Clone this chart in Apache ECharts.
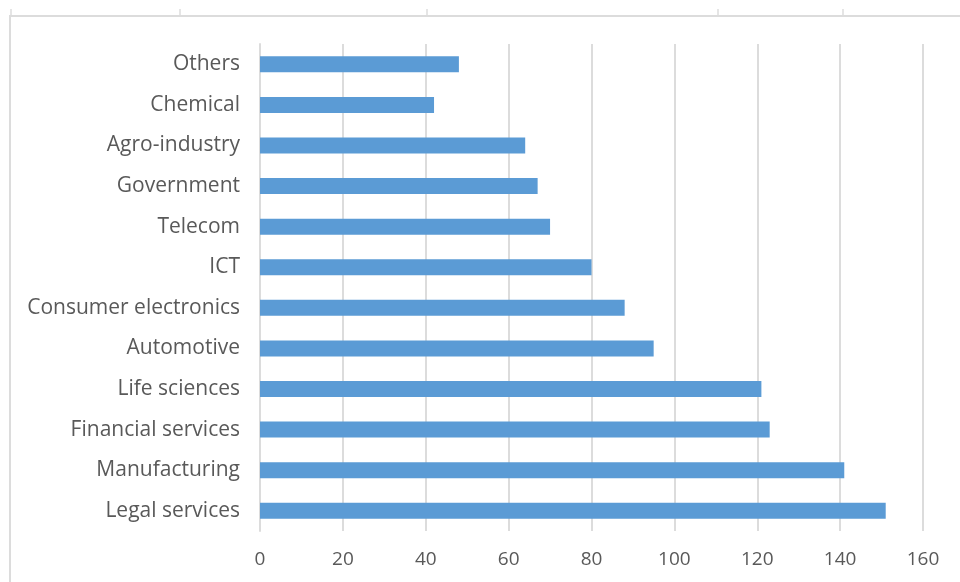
<!DOCTYPE html>
<html>
<head>
<meta charset="utf-8">
<script src="https://cdn.jsdelivr.net/npm/echarts@6/dist/echarts.min.js"></script>
<style>
  html, body { margin: 0; padding: 0; background: #ffffff; }
  #chart { width: 960px; height: 582px; }
</style>
</head>
<body>
<div id="chart"></div>
<script>
// Sectors, listed top to bottom
const categories = [
  'Others', 'Chemical', 'Agro-industry', 'Government', 'Telecom', 'ICT',
  'Consumer electronics', 'Automotive', 'Life sciences', 'Financial services',
  'Manufacturing', 'Legal services'
];
const values = [48, 42, 64, 67, 70, 80, 88, 95, 121, 123, 141, 151];
const xTicks = [0, 20, 40, 60, 80, 100, 120, 140, 160];

const textColor = '#595959';
const lineColor = '#dcdcdc';
const fontFamily = '"Open Sans", "Noto Sans", sans-serif';

const chart = echarts.init(document.getElementById('chart'), null, { renderer: 'canvas' });

// Outer frame with small ticks along its top edge
const frameTicks = [11, 180, 427, 718, 843].map(x => ({
  type: 'line',
  silent: true,
  shape: { x1: x, y1: 9, x2: x, y2: 16 },
  style: { stroke: lineColor, lineWidth: 1.5 }
}));

chart.setOption({
  backgroundColor: '#ffffff',
  animation: false,
  grid: { left: 260, right: 37, top: 44, bottom: 51, containLabel: false },
  xAxis: {
    type: 'value',
    min: xTicks[0],
    max: xTicks[xTicks.length - 1],
    interval: 20,
    axisLine: { show: false },
    axisTick: { show: false },
    splitLine: { show: true, lineStyle: { color: lineColor, width: 2 } },
    axisLabel: {
      color: textColor,
      fontFamily: fontFamily,
      fontSize: 19,
      margin: 19
    }
  },
  yAxis: {
    type: 'category',
    data: categories,
    inverse: true,
    axisLine: { show: true, lineStyle: { color: lineColor, width: 2 } },
    axisTick: { show: false },
    axisLabel: {
      color: textColor,
      fontFamily: fontFamily,
      fontSize: 21,
      margin: 20
    }
  },
  series: [{
    type: 'bar',
    data: values,
    barWidth: 16,
    itemStyle: { color: '#5b9bd5' }
  }],
  graphic: [
    {
      type: 'rect',
      silent: true,
      shape: { x: 10, y: 16, width: 1200, height: 1200 },
      style: { fill: 'none', stroke: lineColor, lineWidth: 2 }
    },
    ...frameTicks
  ]
});
</script>
</body>
</html>
